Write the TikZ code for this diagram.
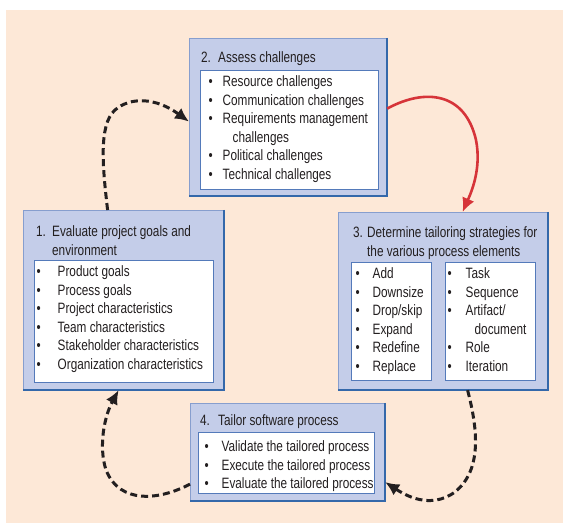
\documentclass[tikz,border=0pt]{standalone}
\usepackage{fontspec}
\setmainfont{Liberation Sans}[FakeStretch=0.785]
\usetikzlibrary{arrows.meta,positioning,calc}
\definecolor{peach}{RGB}{253,232,215}
\definecolor{boxfill}{RGB}{196,205,233}
\definecolor{boxline}{RGB}{135,158,206}
\definecolor{shadeblue}{RGB}{52,104,170}
\definecolor{innerline}{RGB}{84,122,186}
\definecolor{arrowred}{RGB}{214,52,57}
\definecolor{ink}{RGB}{35,31,32}
\newcommand{\bulletlist}[2]{\begin{tabular}[t]{@{}p{#1}@{}l@{}}#2\end{tabular}}
\tikzset{
outerbox/.style = {draw=boxline, fill=boxfill, line width=1.2pt, rectangle, inner sep=0pt, anchor=north west},
boxshade/.style = {draw=shadeblue, line width=2pt},
innerbox/.style = {draw=innerline, fill=white, line width=0.8pt, rectangle, inner sep=0pt, anchor=north west},
boxtitle/.style = {anchor=base west, inner sep=0pt, text=ink, font=\fontsize{15}{18.5}\selectfont},
itemlist/.style = {anchor=base west, inner sep=0pt, text=ink, font=\fontsize{15}{18.5}\selectfont},
loopline/.style = {->, draw=ink, line width=3pt, dash pattern=on 7pt off 4pt},
redline/.style = {->, draw=arrowred, line width=2.6pt}
}
\begin{document}
\begin{tikzpicture}[x=1pt, y=-1pt, >={Latex[length=14pt,width=13pt]}]
  \useasboundingbox (0,0) rectangle (563,526);
  \fill[peach] (6,10) rectangle (563,523);

  \node [outerbox, minimum width=197pt, minimum height=157pt] (assess)    at (189,38)  {};
  \node [outerbox, minimum width=200pt, minimum height=179pt] (evaluate)  at (23,210)  {};
  \node [outerbox, minimum width=209pt, minimum height=177pt] (determine) at (338,212) {};
  \node [outerbox, minimum width=194pt, minimum height=97pt]  (tailor)    at (190,403) {};
  \foreach \b in {assess,evaluate,determine,tailor}
    \draw [boxshade] (\b.north east) -- (\b.south east) -- (\b.south west);

  \node [innerbox, minimum width=178pt, minimum height=119pt] (assesslist)     at (200,70)  {};
  \node [innerbox, minimum width=179pt, minimum height=122pt] (evaluatelist)   at (34,260)  {};
  \node [innerbox, minimum width=80pt,  minimum height=118pt] (determineleft)  at (351,262) {};
  \node [innerbox, minimum width=90pt,  minimum height=118pt] (determineright) at (445,262) {};
  \node [innerbox, minimum width=176pt, minimum height=61pt]  (tailorlist)     at (198,432) {};

  \node [boxtitle] (assesstitle)    at (201,63)  {\bulletlist{17pt}{2. & Assess challenges}};
  \node [boxtitle] (evaluatetitle)  at (36,237)  {\bulletlist{16pt}{1. & Evaluate project goals and\\ & environment}};
  \node [boxtitle] (determinetitle) at (353,238) {\bulletlist{14pt}{3. & Determine tailoring strategies for\\ & the various process elements}};
  \node [boxtitle] (tailortitle)    at (200,426) {\bulletlist{18pt}{4. & Tailor software process}};

  \node [itemlist] (assessitems) at (208.5,87) {\bulletlist{14pt}{
    \textbullet & Resource challenges\\
    \textbullet & Communication challenges\\
    \textbullet & Requirements management\\
                & \hspace{10pt}challenges\\
    \textbullet & Political challenges\\
    \textbullet & Technical challenges}};
  \node [itemlist] (evaluateitems) at (36.5,277) {\bulletlist{21pt}{
    \textbullet & Product goals\\
    \textbullet & Process goals\\
    \textbullet & Project characteristics\\
    \textbullet & Team characteristics\\
    \textbullet & Stakeholder characteristics\\
    \textbullet & Organization characteristics}};
  \node [itemlist] (actionitems) at (355.5,279) {\bulletlist{17pt}{
    \textbullet & Add\\
    \textbullet & Downsize\\
    \textbullet & Drop/skip\\
    \textbullet & Expand\\
    \textbullet & Redefine\\
    \textbullet & Replace}};
  \node [itemlist] (elementitems) at (447.5,279) {\bulletlist{18pt}{
    \textbullet & Task\\
    \textbullet & Sequence\\
    \textbullet & Artifact/\\
                & \hspace{9pt}document\\
    \textbullet & Role\\
    \textbullet & Iteration}};
  \node [itemlist] (tailoritems) at (204.5,452) {\bulletlist{17pt}{
    \textbullet & Validate the tailored process\\
    \textbullet & Execute the tailored process\\
    \textbullet & Evaluate the tailored process}};

  \draw [loopline] ([xshift=-16pt]evaluate.north) .. controls (103,170) and (98,125) .. (115,110)
    .. controls (130,97) and (155,97) .. ([yshift=-4.5pt]assess.west);
  \draw [redline] ([yshift=8.5pt]assess.east) .. controls (425,88) and (465,92) .. (476,140)
    .. controls (482,170) and (470,195) .. ([xshift=19.5pt]determine.north);
  \draw [loopline] ([xshift=24.5pt]determine.south) .. controls (478,430) and (482,470) .. (455,492)
    .. controls (430,510) and (405,495) .. ([yshift=-30pt]tailor.east);
  \draw [loopline] ([yshift=-32pt]tailor.west) .. controls (160,500) and (120,505) .. (106,470)
    .. controls (98,445) and (105,415) .. ([xshift=-5pt]evaluate.south);
\end{tikzpicture}
\end{document}
